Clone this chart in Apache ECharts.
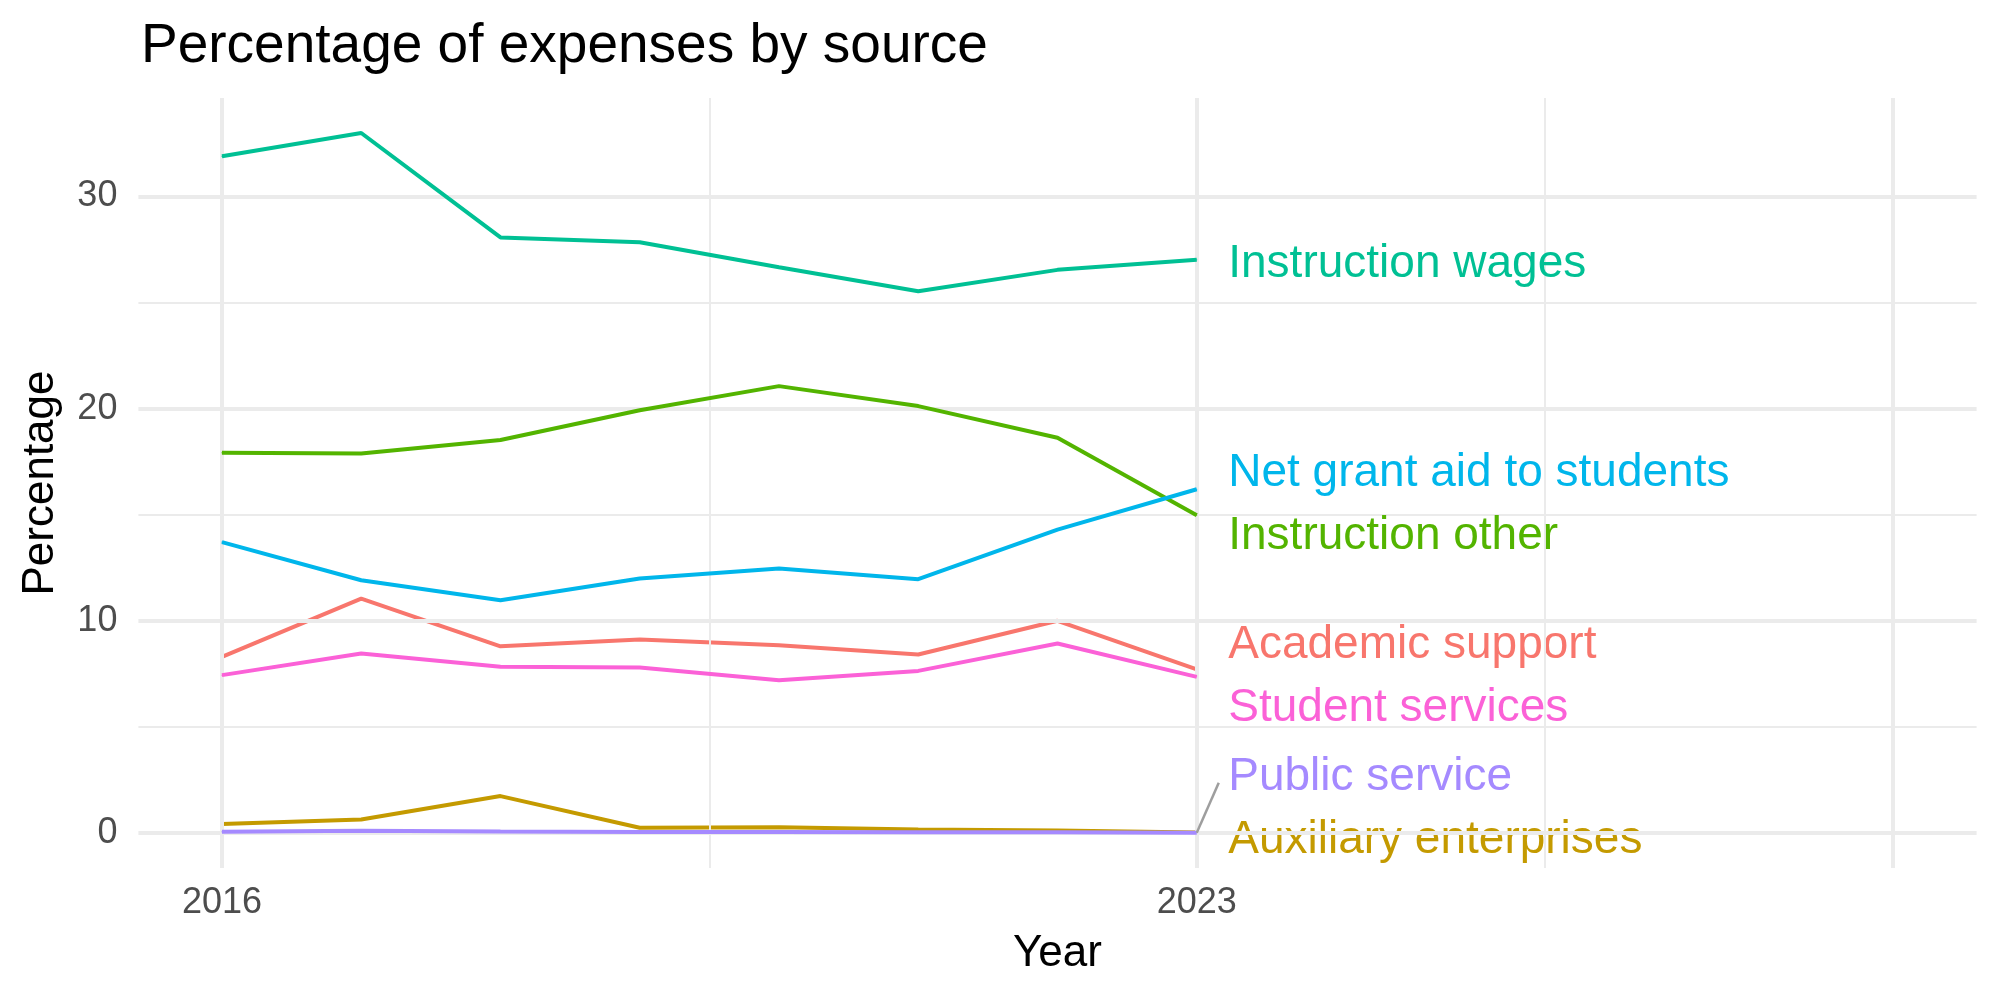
<!DOCTYPE html>
<html>
<head>
<meta charset="utf-8">
<script src="https://cdn.jsdelivr.net/npm/echarts@6/dist/echarts.min.js"></script>
<style>
  html, body { margin: 0; padding: 0; background: #fff; }
  #chart { width: 2000px; height: 1000px; }
</style>
</head>
<body>
<div id="chart"></div>
<script>
// data
const years = [2016, 2017, 2018, 2019, 2020, 2021, 2022, 2023];
const academicSupport = [8.30, 11.05, 8.80, 9.12, 8.85, 8.41, 10.00, 7.71];
const auxiliaryEnterprises = [0.42, 0.64, 1.74, 0.25, 0.27, 0.17, 0.12, 0.02];
const instructionOther = [17.92, 17.88, 18.52, 19.92, 21.06, 20.12, 18.63, 14.97];
const instructionWages = [31.89, 32.99, 28.07, 27.84, 26.66, 25.53, 26.54, 27.02];
const netGrantAid = [13.71, 11.91, 10.97, 11.99, 12.46, 11.96, 14.30, 16.20];
const publicService = [0.06, 0.11, 0.07, 0.05, 0.05, 0.04, 0.04, 0.01];
const studentServices = [7.44, 8.46, 7.83, 7.80, 7.20, 7.64, 8.93, 7.36];

const xTickLabels = [2016, 2023];
const yTickLabels = [0, 10, 20, 30];
const xMajorBreaks = [2016, 2023, 2028];
const xMinorBreaks = [2019.5, 2025.5];
const yMajorBreaks = [0, 10, 20, 30];
const yMinorBreaks = [5, 15, 25];

const FONT = 'Liberation Sans, Arial, sans-serif';
const GRID_COLOR = '#EBEBEB';

// name, values, colour, vertical nudge of the end label (px)
const lines = [
  ['Academic support', academicSupport, '#F8766D', -24],
  ['Auxiliary enterprises', auxiliaryEnterprises, '#C49A00', 8],
  ['Instruction other', instructionOther, '#53B400', 21],
  ['Instruction wages', instructionWages, '#00C094', 5],
  ['Net grant aid to students', netGrantAid, '#00B6EB', -16],
  ['Public service', publicService, '#A58AFF', -55],
  ['Student services', studentServices, '#FB61D7', 31],
];

// ggplot style 5% expansion, x runs out to the last break
const xLo = years[0], xHi = xMajorBreaks[xMajorBreaks.length - 1];
const yHi = Math.max(...instructionWages);
const xPad = (xHi - xLo) * 0.05, yPad = yHi * 0.05;

const last = years.length - 1;

const series = lines.map(([name, values, color, dy], k) => ({
  name: name,
  type: 'line',
  z: 3 + k,
  symbol: 'circle',
  symbolSize: 1,
  itemStyle: { color: color },
  lineStyle: { color: color, width: 4 },
  data: years.map((yr, i) => {
    if (i !== last) return [yr, values[i]];
    return {
      value: [yr, values[i]],
      label: {
        show: true,
        position: 'right',
        distance: 0,
        offset: [31, dy],
        formatter: name,
        color: color,
        fontSize: 46,
        fontFamily: FONT,
      },
    };
  }),
}));

// panel grid lines, drawn on the axes' scales
const gridLine = (axis, v, w) => ({ [axis]: v, lineStyle: { color: GRID_COLOR, width: w, type: 'solid' } });
series.unshift({
  name: 'grid',
  type: 'line',
  z: 1,
  data: [],
  markLine: {
    silent: true,
    symbol: 'none',
    label: { show: false },
    animation: false,
    data: [
      ...xMinorBreaks.map((v) => gridLine('xAxis', v, 2)),
      ...yMinorBreaks.map((v) => gridLine('yAxis', v, 2)),
      ...xMajorBreaks.map((v) => gridLine('xAxis', v, 4)),
      ...yMajorBreaks.map((v) => gridLine('yAxis', v, 4)),
    ],
  },
});

const option = {
  animation: false,
  backgroundColor: '#fff',
  title: {
    text: 'Percentage of expenses by source',
    left: 141,
    top: 19,
    padding: 0,
    textStyle: { fontFamily: FONT, fontSize: 55, fontWeight: 'normal', color: '#000' },
  },
  grid: { left: 138.4, right: 23.4, top: 98, bottom: 132, containLabel: false },
  xAxis: {
    type: 'value',
    min: xLo - xPad,
    max: xHi + xPad,
    name: 'Year',
    nameLocation: 'middle',
    nameGap: 64,
    nameTextStyle: { fontFamily: FONT, fontSize: 44, color: '#000' },
    axisLine: { show: false },
    axisTick: { show: false },
    splitLine: { show: false },
    axisLabel: {
      customValues: xTickLabels,
      margin: 17,
      fontFamily: FONT,
      fontSize: 36,
      color: '#4D4D4D',
      formatter: (v) => String(v),
    },
  },
  yAxis: {
    type: 'value',
    min: -yPad,
    max: yHi + yPad,
    name: 'Percentage',
    nameLocation: 'middle',
    nameRotate: 90,
    nameGap: 76,
    nameTextStyle: { fontFamily: FONT, fontSize: 44, color: '#000' },
    axisLine: { show: false },
    axisTick: { show: false },
    splitLine: { show: false },
    axisLabel: {
      customValues: yTickLabels,
      margin: 21,
      fontFamily: FONT,
      fontSize: 36,
      color: '#4D4D4D',
      formatter: (v) => String(v),
    },
  },
  series: series,
};

const myChart = echarts.init(document.getElementById('chart'), null, { renderer: 'canvas' });
myChart.setOption(option);

// repel segment from the Public service end point up to its label
const p = myChart.convertToPixel({ gridIndex: 0 }, [years[last], publicService[last]]);
myChart.setOption({
  graphic: [{
    type: 'line',
    z: 100,
    shape: { x1: p[0], y1: p[1], x2: p[0] + 22, y2: p[1] - 50 },
    style: { stroke: '#9E9E9E', lineWidth: 2.5 },
  }],
});
</script>
</body>
</html>
